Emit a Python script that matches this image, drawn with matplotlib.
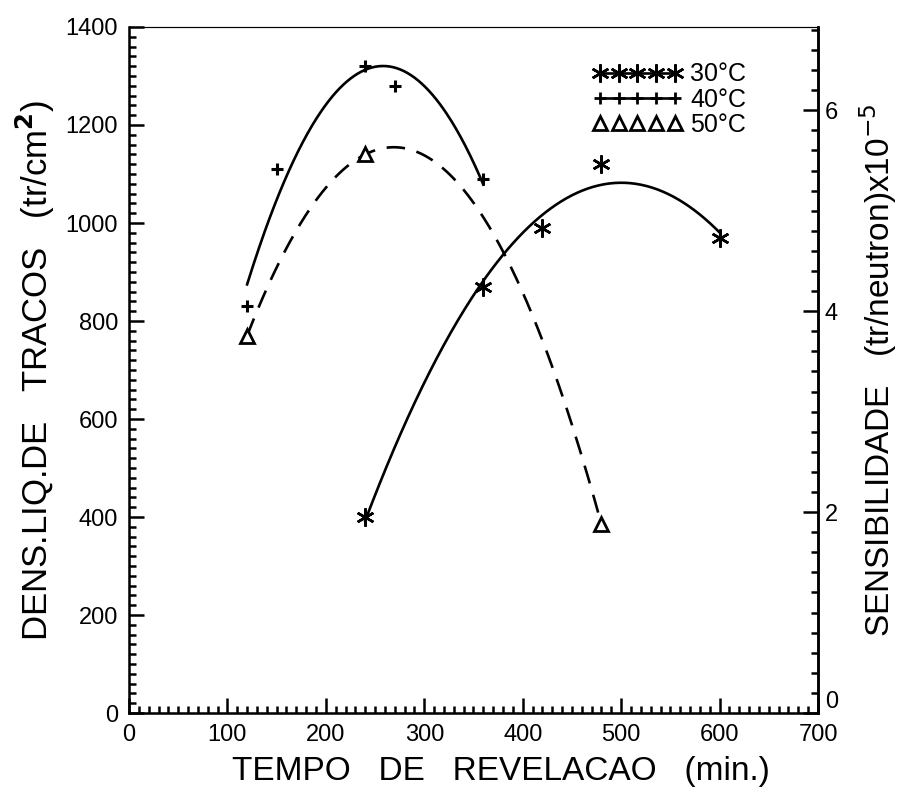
import numpy as np
import matplotlib
matplotlib.use("Agg")
import matplotlib.pyplot as plt
from matplotlib.ticker import MultipleLocator
from matplotlib.lines import Line2D

# Measured net track density (tr/cm^2) vs etching time (min)
t_30 = [240, 360, 420, 480, 600]
d_30 = [400, 870, 990, 1120, 970]

t_40 = [120, 150, 240, 270, 360]
d_40 = [830, 1110, 1320, 1280, 1090]

t_50 = [120, 240, 480]
d_50 = [770, 1140, 385]

labels = ["30°C", "40°C", "50°C"]

plt.rcParams['font.family'] = ['Liberation Sans', 'DejaVu Sans']

fig = plt.figure(figsize=(9.09, 7.87), dpi=100)
ax = fig.add_axes([0.1419, 0.094, 0.758, 0.8717])


def smooth(t, d, deg):
    coef = np.polyfit(t, d, deg)
    tt = np.linspace(min(t), max(t), 200)
    return tt, np.polyval(coef, tt)


lw = 1.9
c = "black"

tt, yy = smooth(t_30, d_30, 2)
ax.plot(tt, yy, color=c, lw=lw)
tt, yy = smooth(t_40, d_40, 2)
ax.plot(tt, yy, color=c, lw=lw)
tt, yy = smooth(t_50, d_50, 2)
ax.plot(tt, yy, color=c, lw=lw, linestyle=(0, (7, 4.5)))

ax.plot(t_30, d_30, linestyle='None', marker=(6, 2, 0), ms=13, mew=1.8, color=c)
ax.plot(t_40, d_40, linestyle='None', marker='+', ms=8, mew=2.2, color=c)
ax.plot(t_50, d_50, linestyle='None', marker='^', ms=10, mew=2, mfc='white', color=c)

leg_handles = [
    Line2D([], [], color=c, lw=lw, marker=(6, 2, 0), ms=13, mew=1.8),
    Line2D([], [], color=c, lw=lw, marker='+', ms=8, mew=2),
    Line2D([], [], color=c, lw=0, marker='^', ms=10, mew=2, mfc='white'),
]
ax.legend(leg_handles, labels, loc='upper right', bbox_to_anchor=(0.91, 0.963),
          frameon=False, numpoints=5, handlelength=3.6, handletextpad=0.3,
          labelspacing=0.05, fontsize=18, borderaxespad=0)

ax.set_xlim(0, 700)
ax.set_ylim(0, 1400)
ax.xaxis.set_major_locator(MultipleLocator(100))
ax.xaxis.set_minor_locator(MultipleLocator(10))
ax.yaxis.set_major_locator(MultipleLocator(200))
ax.yaxis.set_minor_locator(MultipleLocator(20))
ax.tick_params(which='both', direction='in', top=False, right=False,
               labelsize=17, width=1.8)
ax.tick_params(which='major', length=11)
ax.tick_params(which='minor', length=5)
ax.tick_params(axis='x', pad=8)
ax.tick_params(axis='y', pad=8)
for s in ax.spines.values():
    s.set_linewidth(1.8)
ax.spines['top'].set_linewidth(0.8)

ax.set_xlabel("TEMPO   DE   REVELACAO   (min.)", fontsize=24)
ax.xaxis.set_label_coords(0.54, -0.062)
ax.set_ylabel("DENS.LIQ.DE   TRACOS   (tr/cm$^\\mathbf{2}$)", fontsize=25, labelpad=6)

ax2 = ax.twinx()
ax2.set_ylim(0, 1400 / 205)
ax2.yaxis.set_major_locator(MultipleLocator(2))
ax2.yaxis.set_minor_locator(MultipleLocator(0.2))
ax2.tick_params(which='both', direction='in', labelsize=17, width=1.8, pad=5)
ax2.tick_params(which='major', length=11)
ax2.tick_params(which='minor', length=5)
ax2.spines['right'].set_linewidth(1.8)
ax2.set_ylabel("SENSIBILIDADE   (tr/neutron)x10$^{-5}$", fontsize=24, labelpad=14)

# keep the right-hand zero clear of the 700 label below it
fig.canvas.draw()
for lab in ax2.get_yticklabels():
    if lab.get_text() in ("0", "0.0", "$\\mathdefault{0}$"):
        lab.set_verticalalignment('bottom')

fig.savefig("out.png", dpi=100)
